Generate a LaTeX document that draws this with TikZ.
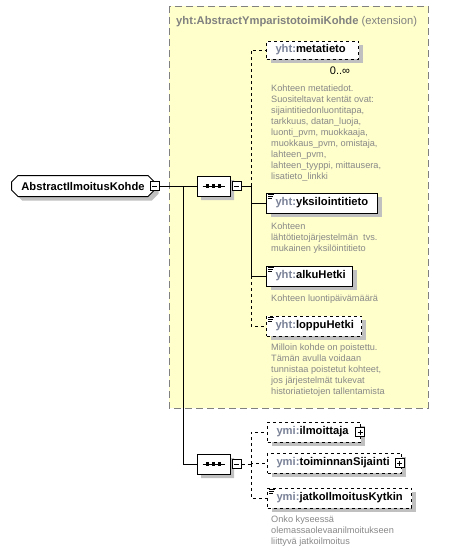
\documentclass[tikz,border=0pt]{standalone}
\usepackage{fontspec}
\setmainfont{Liberation Sans}
\usetikzlibrary{shapes.misc,shadows}

\definecolor{extyellow}{RGB}{255,255,204}
\definecolor{nsgray}{RGB}{122,130,152}
\definecolor{docgray}{RGB}{136,136,136}
\definecolor{shadowgray}{RGB}{192,192,192}

\newcommand{\ename}[2]{\mbox{\textcolor{nsgray}{#1:}#2}}

\begin{document}
\begin{tikzpicture}[x=1pt, y=-1pt,
    shadebox/.style={drop shadow={shadow xshift=4pt, shadow yshift=-4pt, fill=shadowgray, opacity=1}},
    elem/.style={draw, fill=white, anchor=west, line width=1pt, minimum height=20pt, inner xsep=9pt, inner ysep=0pt, align=left, font=\fontsize{11.2}{13}\selectfont\bfseries, shadebox},
    optelem/.style={elem, dashed},
    seqnode/.style={chamfered rectangle, chamfered rectangle xsep=5pt, draw, fill=white, line width=1pt, minimum width=33pt, minimum height=20pt, inner sep=0pt, shadebox},
    minusbox/.style={draw, fill=white, line width=1pt, minimum size=9pt, inner sep=0pt,
        path picture={\draw ([xshift=2pt]path picture bounding box.west) -- ([xshift=-2pt]path picture bounding box.east);}},
    plusbox/.style={minusbox,
        path picture={\draw ([xshift=2pt]path picture bounding box.west) -- ([xshift=-2pt]path picture bounding box.east);
                      \draw ([yshift=-2pt]path picture bounding box.north) -- ([yshift=2pt]path picture bounding box.south);}},
    doc/.style={anchor=north west, inner sep=0pt, align=left, text=docgray, font=\fontsize{9.2}{11}\selectfont},
    conn/.style={line width=1pt}
]

    \useasboundingbox (0,0) rectangle (470,552);

    % Yellow box of the base type
    \draw[gray, line width=1pt, dash pattern=on 7pt off 4pt, fill=extyellow] (169,6) rectangle (428,408);
    \node[anchor=base west, inner sep=0pt, text=gray, font=\fontsize{11.2}{13}\selectfont] (title) at (176,24)
        {\textbf{yht:AbstractYmparistotoimiKohde} (extension)};

    % Root and the two sequences
    \node[chamfered rectangle, chamfered rectangle xsep=3pt, draw, fill=white, line width=1pt, anchor=west,
        minimum width=143pt, minimum height=21pt, inner sep=0pt, font=\fontsize{11.2}{13}\selectfont\bfseries, shadebox]
        (root) at (11,186) {AbstractIlmoitusKohde\hspace{8pt}};
    \node[minusbox] (rootm) at (154.5,186) {};

    \node[seqnode] (seqa) at (213.5,186) {};
    \node[minusbox] (seqam) at (236.5,186) {};

    \node[seqnode] (seqb) at (213.5,464) {};
    \node[minusbox] (seqbm) at (236.5,464) {};

    \foreach \s in {seqa, seqb} {
        \draw[line width=1pt] ([xshift=-11pt]\s.center) -- ([xshift=11pt]\s.center);
        \foreach \d in {-6,0,6}
            \fill ([xshift=\d pt]\s.center) +(-1.6,-1.6) rectangle +(1.6,1.6);
    }

    % Elements of the base type
    \node[optelem, minimum height=18pt, text width=74pt] (meta) at (266,50) {\ename{yht}{metatieto}};
    \node[anchor=center, inner sep=0pt, font=\fontsize{11}{13}\selectfont] (metam) at (340,71) {0..∞};
    \node[doc] (metad) at (271,85) {Kohteen metatiedot.\\Suositeltavat kentät ovat:\\sijaintitiedonluontitapa,\\tarkkuus, datan\_luoja,\\luonti\_pvm, muokkaaja,\\muokkaus\_pvm, omistaja,\\lahteen\_pvm,\\lahteen\_tyyppi, mittausera,\\lisatieto\_linkki};

    \node[elem, text width=93pt] (yks) at (266,203) {\ename{yht}{yksilointitieto}};
    \node[doc] (yksd) at (271,222.5) {Kohteen\\lähtötietojärjestelmän\ \ tvs.\\mukainen yksilöintitieto};

    \node[elem, text width=68pt] (alku) at (266,276) {\ename{yht}{alkuHetki}};
    \node[doc] (alkud) at (271,294.5) {Kohteen luontipäivämäärä};

    \node[optelem, text width=77pt] (loppu) at (266,326) {\ename{yht}{loppuHetki}};
    \node[doc] (loppud) at (271,343.5) {Milloin kohde on poistettu.\\Tämän avulla voidaan\\tunnistaa poistetut kohteet,\\jos järjestelmät tukevat\\historiatietojen tallentamista};

    % Elements of the own sequence
    \node[optelem, text width=75pt] (ilm) at (267,432) {\ename{ymi}{ilmoittaja}};
    \node[plusbox] (ilmp) at (360,432) {};

    \node[optelem, text width=116pt] (toim) at (267,463) {\ename{ymi}{toiminnanSijainti}};
    \node[plusbox] (toimp) at (399.5,463) {};

    \node[optelem, text width=126pt] (jatko) at (267,498) {\ename{ymi}{jatkoIlmoitusKytkin}};
    \node[doc] (jatkod) at (271,515.5) {Onko kyseessä\\olemassaolevaanilmoitukseen\\liittyvä jatkoilmoitus};

    % Doc marks
    \foreach \e in {yks, alku, loppu, jatko}
        \foreach \k in {0,1,2}
            \draw[line width=0.8pt] ([shift={(2,2+2*\k)}]\e.north west) -- ++(6-\k,0);

    % Connectors
    \coordinate (busa) at (183,186);
    \coordinate (busb) at (251,186);
    \coordinate (busc) at (251,464);

    \draw[conn] (rootm.east) -- (seqa.west);
    \draw[conn] (busa) |- (seqb.west);
    \draw[conn] (seqam.east) -- (busb);
    \draw[conn] (busb) |- (yks.west);
    \draw[conn] (busb) |- (alku.west);
    \draw[conn, dashed] (busb) |- (meta.west);
    \draw[conn, dashed] (alku.west -| busb) |- (loppu.west);

    \draw[conn, dashed] (seqbm.east) -- (busc);
    \draw[conn, dashed] (busc) |- (ilm.west);
    \draw[conn, dashed] (busc) |- (toim.west);
    \draw[conn, dashed] (busc) |- (jatko.west);

\end{tikzpicture}
\end{document}
